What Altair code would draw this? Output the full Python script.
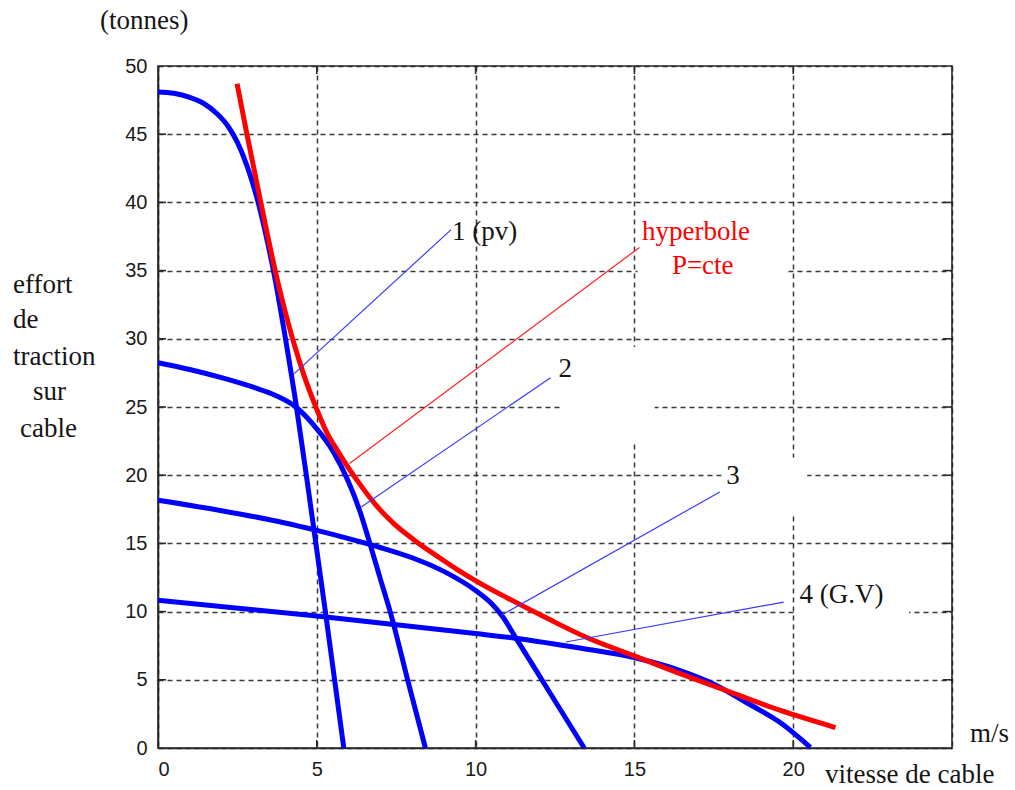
import altair as alt
import pandas as pd

# ---- curve data (x: vitesse de cable m/s, y: effort de traction tonnes) ----
c1_x = [0, 0.5, 1.0, 1.44, 1.86, 2.2, 2.5, 2.8, 3.12, 3.4, 3.7, 4.0, 4.36, 4.67, 4.97, 5.27, 5.56, 5.85]
c1_y = [48.1, 48.0, 47.7, 47.25, 46.5, 45.6, 44.4, 42.7, 40.3, 37.6, 34.2, 30.2, 25.0, 20.0, 15.0, 10.0, 5.0, 0.0]

c2_x = [0, 1.0, 2.0, 3.0, 3.7, 4.34, 5.0, 5.5, 6.0, 6.35, 6.67, 7.0, 7.31, 7.86, 8.42]
c2_y = [28.25, 27.75, 27.15, 26.45, 25.85, 25.0, 23.4, 21.8, 19.5, 17.4, 15.0, 12.4, 10.0, 5.0, 0.0]

c3_x = [0, 2, 4, 5, 6, 7, 8, 9, 10, 10.5, 10.83, 11.3, 12.3, 13.42]
c3_y = [18.16, 17.4, 16.5, 15.95, 15.35, 14.7, 13.95, 12.95, 11.55, 10.6, 9.7, 7.95, 4.2, 0.0]

c4_x = [0, 5, 10, 11.25, 13.37, 15.05, 16.44, 17.49, 18.55, 19.6, 20.54]
c4_y = [10.83, 9.68, 8.39, 8.05, 7.29, 6.6, 5.68, 4.7, 3.3, 1.85, 0.05]

hyp_x = [2.49, 2.80, 3.22, 3.70, 4.25, 4.6, 4.97, 5.3, 5.65, 5.98, 6.4, 6.83, 7.4, 8.09, 8.8,
         9.46, 10.2, 11.0, 12.3, 13.5, 15.06, 16.44, 18.02, 19.6, 21.33]
hyp_y = [48.7, 45.0, 40.2, 34.9, 29.9, 27.3, 25.0, 23.2, 21.8, 20.6, 19.2, 17.9, 16.5, 15.2, 14.05,
         13.03, 12.0, 11.0, 9.45, 8.1, 6.7, 5.45, 4.1, 2.75, 1.5]

# ---- leader lines (start/end) ----
lead_names = ["1", "hyp", "2", "3", "4"]
lead_x1 = [4.29, 6.03, 6.4, 10.83, 12.84]
lead_y1 = [27.45, 20.85, 17.67, 9.76, 7.77]
lead_x2 = [9.23, 15.16, 12.36, 17.69, 19.7]
lead_y2 = [38.0, 36.7, 27.15, 18.77, 10.7]

# ---- annotation labels ----
lab_text = ["1 (pv)", "2", "3", "4 (G.V)"]
lab_x = [9.26, 12.61, 17.89, 20.2]
lab_y = [37.27, 27.2, 19.33, 10.63]

red_text = ["hyperbole", "P=cte"]
red_x = [15.24, 16.18]
red_y = [37.27, 34.73]

# ---- white cover patches over the grid (as in the original figure) ----
wx1 = [12.67, 17.75, 20.1, 15.1]
wx2 = [15.64, 20.44, 23.65, 19.75]
wy1 = [22.4, 17.05, 8.6, 32.5]
wy2 = [29.4, 21.3, 12.0, 38.5]

x_ticks = [0, 5, 10, 15, 20, 25]
y_ticks = [0, 5, 10, 15, 20, 25, 30, 35, 40, 45, 50]

W, H = 794, 682
SERIF = "Liberation Serif"
BLUE = "#0000ff"
RED = "#ff0000"

rows = []
for name, xs_, ys_ in [("1", c1_x, c1_y), ("2", c2_x, c2_y), ("3", c3_x, c3_y),
                       ("4", c4_x, c4_y), ("hyp", hyp_x, hyp_y)]:
    for i, (a, b) in enumerate(zip(xs_, ys_)):
        rows.append({"serie": name, "x": a, "y": b, "i": i})
curves = pd.DataFrame(rows)

lrows = []
for n, a1, b1, a2, b2 in zip(lead_names, lead_x1, lead_y1, lead_x2, lead_y2):
    lrows.append({"serie": n, "x": a1, "y": b1, "i": 0})
    lrows.append({"serie": n, "x": a2, "y": b2, "i": 1})
leads = pd.DataFrame(lrows)

labels = pd.DataFrame({"t": lab_text, "x": lab_x, "y": lab_y})
rlabels = pd.DataFrame({"t": red_text, "x": red_x, "y": red_y})
patches = pd.DataFrame({"x1": wx1, "x2": wx2, "y1": wy1, "y2": wy2})

xs = alt.Scale(domain=[0, 25], nice=False, zero=False)
ys = alt.Scale(domain=[0, 50], nice=False, zero=False)

common_axis = dict(grid=True, title=None, ticks=False,
                   labelFont="Liberation Sans", labelFontSize=20, labelColor="#1a1a1a",
                   labelPadding=11, domainColor="#2a2a2a", domainWidth=1.6,
                   gridColor="#222", gridDash=[5, 4], gridWidth=1.5, gridOpacity=0.9)
xaxis = alt.Axis(values=x_ticks, labelExpr="datum.value == 25 ? '' : datum.label", **common_axis)
yaxis = alt.Axis(values=y_ticks, **common_axis)

base_patch = alt.Chart(patches).mark_rect(fill="white").encode(
    x=alt.X("x1:Q", scale=xs, axis=xaxis),
    x2="x2:Q",
    y=alt.Y("y1:Q", scale=ys, axis=yaxis),
    y2="y2:Q",
)

blue_curves = alt.Chart(curves[curves.serie != "hyp"]).mark_line(
    color=BLUE, strokeWidth=5, interpolate="monotone", strokeCap="butt"
).encode(
    x=alt.X("x:Q", scale=xs), y=alt.Y("y:Q", scale=ys),
    detail="serie:N", order="i:Q",
)

red_curve = alt.Chart(curves[curves.serie == "hyp"]).mark_line(
    color=RED, strokeWidth=5, interpolate="monotone", strokeCap="butt"
).encode(
    x=alt.X("x:Q", scale=xs), y=alt.Y("y:Q", scale=ys), order="i:Q",
)

blue_leads = alt.Chart(leads[leads.serie != "hyp"]).mark_line(
    strokeWidth=1.2, color="#3a3aff"
).encode(
    x=alt.X("x:Q", scale=xs), y=alt.Y("y:Q", scale=ys),
    detail="serie:N", order="i:Q",
)
red_lead = alt.Chart(leads[leads.serie == "hyp"]).mark_line(
    strokeWidth=1.2, color="#ff2020"
).encode(
    x=alt.X("x:Q", scale=xs), y=alt.Y("y:Q", scale=ys), order="i:Q",
)

lab_marks = alt.Chart(labels).mark_text(
    font=SERIF, fontSize=27, align="left", baseline="alphabetic", color="#151515"
).encode(x=alt.X("x:Q", scale=xs), y=alt.Y("y:Q", scale=ys), text="t:N")

red_marks = alt.Chart(rlabels).mark_text(
    font=SERIF, fontSize=27, align="left", baseline="alphabetic", color=RED
).encode(x=alt.X("x:Q", scale=xs), y=alt.Y("y:Q", scale=ys), text="t:N")

# inward ticks on all four sides (MATLAB style)
xt = pd.DataFrame({"v": x_ticks[1:-1]})
yt = pd.DataFrame({"v": y_ticks[1:-1]})
tick_style = dict(color="#2a2a2a", strokeWidth=1.6)
t_bottom = alt.Chart(xt).mark_rule(**tick_style).encode(
    x=alt.X("v:Q", scale=xs), y=alt.value(H), y2=alt.value(H - 8))
t_top = alt.Chart(xt).mark_rule(**tick_style).encode(
    x=alt.X("v:Q", scale=xs), y=alt.value(0), y2=alt.value(8))
t_left = alt.Chart(yt).mark_rule(**tick_style).encode(
    y=alt.Y("v:Q", scale=ys), x=alt.value(0), x2=alt.value(8))
t_right = alt.Chart(yt).mark_rule(**tick_style).encode(
    y=alt.Y("v:Q", scale=ys), x=alt.value(W), x2=alt.value(W - 9))

# titles placed outside the plot area
def txt(s, px, py):
    return alt.Chart(pd.DataFrame({"t": [s]})).mark_text(
        font=SERIF, fontSize=27, align="left", baseline="alphabetic", color="#151515"
    ).encode(text="t:N", x=alt.value(px), y=alt.value(py))

titles = [
    txt("(tonnes)", -58, -37),
    txt("effort", -145, 227),
    txt("de", -145, 262),
    txt("traction", -145, 299),
    txt("sur", -125, 334),
    txt("cable", -138, 371),
    txt("m/s", 812, 676),
    txt("vitesse de cable", 667, 717),
]

chart = alt.layer(
    base_patch, t_bottom, t_top, t_left, t_right,
    blue_curves, red_curve, blue_leads, red_lead, lab_marks, red_marks, *titles
).properties(
    width=W, height=H,
    autosize=alt.AutoSizeParams(type="none"),
    padding={"left": 158, "top": 66, "right": 63, "bottom": 42},
    background="white",
).configure_view(
    stroke="#2a2a2a", strokeWidth=1.6
)

chart.save("out.html", embed_options={"renderer": "svg", "actions": False})
